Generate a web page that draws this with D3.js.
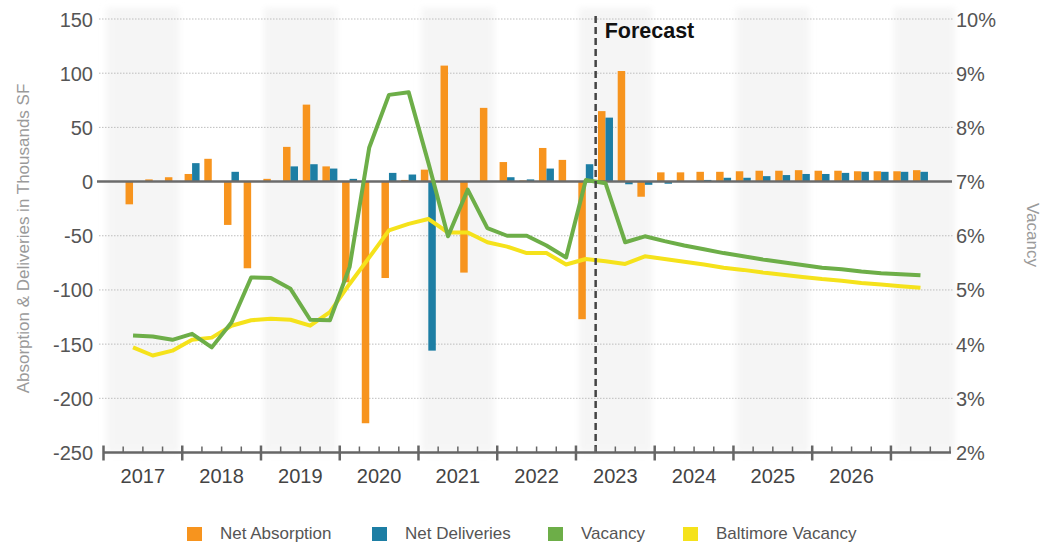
<!DOCTYPE html>
<html>
<head>
<meta charset="utf-8">
<script src="https://cdn.jsdelivr.net/npm/d3@7"></script>
<style>
  html, body { margin: 0; padding: 0; background: #fff; }
  svg { display: block; font-family: "Liberation Sans", Arial, sans-serif; }
</style>
</head>
<body>
<svg id="chart" width="1043" height="548"></svg>
<script>
// Quarterly categories: 2017 Q1 through 2027 Q3 (first and last slots are empty padding)
const years = [2017, 2018, 2019, 2020, 2021, 2022, 2023, 2024, 2025, 2026, 2027];
const quarters = ["Q1", "Q2", "Q3", "Q4"];
const yearLabels = ["2017", "2018", "2019", "2020", "2021", "2022", "2023", "2024", "2025", "2026"];

// Net absorption, thousands SF
const netAbsorption = [
  null, -21, 2, 4,
  7, 21, -40, -80,
  2.5, 32, 71, 14,
  -93, -223, -89, 1.5,
  11, 107, -84, 68,
  18, 1, 31, 20,
  -127, 65, 102, -14,
  8.5, 8.5, 9, 9,
  9.5, 10, 10, 10.5,
  10, 10, 9.5, 9.5,
  9.5, 10.5, null
];

// Net deliveries, thousands SF
const netDeliveries = [
  null, 0, 0, 0,
  17, 0, 9, 0,
  0, 14, 16, 12,
  2.5, 0, 8, 6.5,
  -156, 0, 0, 0,
  4, 2, 12, 0,
  16, 59, -2.5, -3,
  -2, 0.5, 1.5, 3.5,
  3.5, 5, 6, 7,
  7, 8, 9, 9,
  9, 9, null
];

// Vacancy rate, percent
const vacancy = [
  null, 4.16, 4.14, 4.08,
  4.19, 3.94, 4.40, 5.23,
  5.22, 5.02, 4.45, 4.44,
  5.42, 7.63, 8.60, 8.65,
  7.35, 5.99, 6.85, 6.14,
  6.00, 6.00, 5.82, 5.60,
  7.03, 6.97, 5.88, 5.99,
  5.90, 5.82, 5.75, 5.68,
  5.62, 5.56, 5.51, 5.46,
  5.41, 5.38, 5.34, 5.31,
  5.29, 5.27, null
];

// Baltimore market vacancy rate, percent
const baltimoreVacancy = [
  null, 3.94, 3.79, 3.88,
  4.08, 4.12, 4.34, 4.44,
  4.47, 4.45, 4.34, 4.59,
  5.11, 5.60, 6.10, 6.22,
  6.31, 6.06, 6.06, 5.88,
  5.80, 5.68, 5.68, 5.47,
  5.57, 5.53, 5.48, 5.62,
  5.57, 5.52, 5.47, 5.41,
  5.37, 5.32, 5.28, 5.24,
  5.20, 5.17, 5.13, 5.10,
  5.07, 5.04, null
];

const leftTicks = [150, 100, 50, 0, -50, -100, -150, -200, -250];
const rightTicks = [10, 9, 8, 7, 6, 5, 4, 3, 2];
const forecastStart = "2023 Q2";
const shadedYears = [2017, 2019, 2021, 2023, 2025, 2027];

const colors = {
  absorption: "#F7941E",
  deliveries: "#1D7EA4",
  vacancy: "#6DAE48",
  baltimore: "#F5E21B"
};

const categories = [];
years.forEach(y => quarters.forEach(q => categories.push(y + " " + q)));
categories.splice(43); // axis ends after 2027 Q3

const svg = d3.select("#chart");
const plotLeft = 103.5, plotRight = 950, plotTop = 19, plotBottom = 452.5;

const x = d3.scaleBand().domain(categories).range([plotLeft, plotRight]).paddingInner(0).paddingOuter(0);
const xGroup = d3.scaleBand().domain(["absorption", "deliveries"]).range([0, x.bandwidth() * 0.76]);
const yL = d3.scaleLinear().domain([-250, 150]).range([plotBottom, plotTop]);
const yR = d3.scaleLinear().domain([2, 10]).range([plotBottom, plotTop]);

const cx = c => x(c) + x.bandwidth() / 2;
const groupOffset = x.bandwidth() / 2 - xGroup.range()[1] / 2;

// soft year shading
const defs = svg.append("defs");
defs.append("filter").attr("id", "soft").attr("x", "-10%").attr("width", "120%")
  .append("feGaussianBlur").attr("stdDeviation", 3);

const yearEnd = y => {
  const q4 = x(y + " Q4");
  return q4 === undefined ? plotRight + 8 : q4 + x.bandwidth();
};
svg.append("g").attr("filter", "url(#soft)")
  .selectAll("rect").data(shadedYears).join("rect")
  .attr("x", d => x(d + " Q1") + 3)
  .attr("width", d => yearEnd(d) - x(d + " Q1") - 6)
  .attr("y", 8)
  .attr("height", plotBottom - 8)
  .attr("fill", "#f5f5f5");

// horizontal dotted grid
svg.append("g").selectAll("line").data(leftTicks.filter(t => t !== 0 && t !== -250)).join("line")
  .attr("x1", 99).attr("x2", 953)
  .attr("y1", d => yL(d)).attr("y2", d => yL(d))
  .attr("stroke", "#bdbdbd").attr("stroke-width", 1).attr("stroke-dasharray", "1.5,1.5");

// bars
const barData = [];
categories.forEach((c, i) => {
  if (netAbsorption[i] != null) barData.push({ c, key: "absorption", v: netAbsorption[i] });
  if (netDeliveries[i] != null) barData.push({ c, key: "deliveries", v: netDeliveries[i] });
});
svg.append("g").selectAll("rect").data(barData.filter(d => d.v !== 0)).join("rect")
  .attr("x", d => x(d.c) + groupOffset + xGroup(d.key))
  .attr("width", xGroup.bandwidth())
  .attr("y", d => Math.min(yL(d.v), yL(0)))
  .attr("height", d => Math.abs(yL(d.v) - yL(0)))
  .attr("fill", d => colors[d.key]);

// zero baseline
svg.append("line")
  .attr("x1", 97).attr("x2", 952)
  .attr("y1", yL(0)).attr("y2", yL(0))
  .attr("stroke", "#6b6b6b").attr("stroke-width", 2.5);

// vacancy lines
const line = d3.line()
  .defined(d => d.v != null)
  .x(d => cx(d.c))
  .y(d => yR(d.v));

[[baltimoreVacancy, colors.baltimore], [vacancy, colors.vacancy]].forEach(([series, col]) => {
  svg.append("path")
    .datum(categories.map((c, i) => ({ c, v: series[i] })))
    .attr("d", line)
    .attr("fill", "none")
    .attr("stroke", col)
    .attr("stroke-width", 4)
    .attr("stroke-linejoin", "round")
    .attr("stroke-linecap", "butt");
});

// forecast divider
const fx = x(forecastStart);
svg.append("line")
  .attr("x1", fx).attr("x2", fx)
  .attr("y1", 16).attr("y2", plotBottom)
  .attr("stroke", "#444").attr("stroke-width", 2.5).attr("stroke-dasharray", "7,4");
svg.append("text")
  .attr("x", fx + 9).attr("y", 38)
  .attr("font-size", 21.5).attr("font-weight", "bold").attr("fill", "#111")
  .text("Forecast");

// x axis with year ticks and quarter ticks
const xAxisG = svg.append("g");
xAxisG.append("line")
  .attr("x1", plotLeft).attr("x2", plotRight + 1)
  .attr("y1", plotBottom).attr("y2", plotBottom)
  .attr("stroke", "#666").attr("stroke-width", 2.5);
xAxisG.selectAll("line.q").data(categories).join("line")
  .attr("class", "q")
  .attr("x1", d => x(d)).attr("x2", d => x(d))
  .attr("y1", d => d.endsWith("Q1") ? plotBottom - 7 : plotBottom - 6)
  .attr("y2", d => d.endsWith("Q1") ? plotBottom + 8 : plotBottom)
  .attr("stroke", "#666")
  .attr("stroke-width", d => d.endsWith("Q1") ? 2.5 : 1.5);
xAxisG.append("line")
  .attr("x1", plotRight).attr("x2", plotRight)
  .attr("y1", plotBottom - 6).attr("y2", plotBottom)
  .attr("stroke", "#666").attr("stroke-width", 1.5);
xAxisG.selectAll("text").data(yearLabels).join("text")
  .attr("x", d => x(d + " Q1") + x.bandwidth() * 2)
  .attr("y", 482.5)
  .attr("text-anchor", "middle")
  .attr("font-size", 20).attr("fill", "#444")
  .text(d => d);

// left axis (plain hyphen for negatives)
const yAxisL = d3.axisLeft(yL).tickValues(leftTicks).tickSize(0).tickPadding(0).tickFormat(d => String(d));
const gL = svg.append("g").attr("transform", "translate(93,0)").call(yAxisL);
gL.select(".domain").remove();
gL.selectAll("text").attr("font-size", 20).attr("fill", "#555").attr("font-family", "Liberation Sans, Arial, sans-serif").attr("dy", "0.35em");

// right axis
const yAxisR = d3.axisRight(yR).tickValues(rightTicks).tickSize(0).tickPadding(0).tickFormat(d => d + "%");
const gR = svg.append("g").attr("transform", "translate(956,0)").call(yAxisR);
gR.select(".domain").remove();
gR.selectAll("text").attr("font-size", 20).attr("fill", "#555").attr("font-family", "Liberation Sans, Arial, sans-serif").attr("dy", "0.35em");

// axis titles
svg.append("text")
  .attr("transform", "translate(29,238.5) rotate(-90)")
  .attr("text-anchor", "middle")
  .attr("font-size", 17).attr("fill", "#9a9a9a")
  .text("Absorption & Deliveries in Thousands SF");
svg.append("text")
  .attr("transform", "translate(1027,235) rotate(90)")
  .attr("text-anchor", "middle")
  .attr("font-size", 17).attr("fill", "#9a9a9a")
  .text("Vacancy");

// legend
const legendItems = [
  { label: "Net Absorption", color: colors.absorption, x: 187 },
  { label: "Net Deliveries", color: colors.deliveries, x: 372 },
  { label: "Vacancy", color: colors.vacancy, x: 548 },
  { label: "Baltimore Vacancy", color: colors.baltimore, x: 683 }
];
const lg = svg.append("g").selectAll("g").data(legendItems).join("g")
  .attr("transform", d => `translate(${d.x},527)`);
lg.append("rect").attr("width", 15).attr("height", 14).attr("fill", d => d.color);
lg.append("text").attr("x", 33).attr("y", 12.3)
  .attr("font-size", 17).attr("fill", "#555")
  .text(d => d.label);
</script>
</body>
</html>
